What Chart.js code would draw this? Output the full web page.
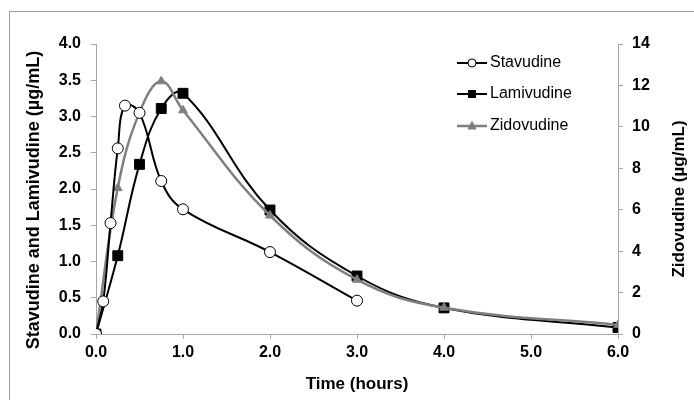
<!DOCTYPE html>
<html>
<head>
<meta charset="utf-8">
<script src="https://cdn.jsdelivr.net/npm/chart.js@4/dist/chart.umd.min.js"></script>
<style>
  html, body { margin: 0; padding: 0; background: #fff; overflow: hidden; }
  #wrap { position: relative; width: 694px; height: 400px; }
  #frame { position: absolute; left: 9px; top: 11px; width: 800px; height: 500px; border: 1px solid #a0a0a0; box-sizing: border-box; }
  canvas { position: absolute; left: 0; top: 0; }
</style>
</head>
<body>
<div id="wrap">
  <div id="frame"></div>
  <canvas id="c" width="694" height="400"></canvas>
</div>
<script>
// ---- data ----
const seriesNames = ['Stavudine', 'Lamivudine', 'Zidovudine'];
const timeStav = [0, 0.083, 0.167, 0.25, 0.333, 0.5, 0.75, 1, 2, 3];
const stavudine = [0, 0.45, 1.53, 2.56, 3.15, 3.05, 2.11, 1.72, 1.13, 0.46];
const timeLam = [0, 0.25, 0.5, 0.75, 1, 2, 3, 4, 6];
const lamivudine = [0, 1.08, 2.34, 3.11, 3.32, 1.71, 0.80, 0.36, 0.09];
const timeZid = [0, 0.25, 0.5, 0.75, 1, 2, 3, 4, 6];
const zidovudine = [0, 7.05, 10.7, 12.2, 10.8, 5.72, 2.62, 1.27, 0.44];
const xTitle = 'Time (hours)';
const yTitle = 'Stavudine and Lamivudine (µg/mL)';
const y2Title = 'Zidovudine (µg/mL)';

const FONT = "'Liberation Sans', Arial, sans-serif";
const AXIS = '#a6a6a6';
const GRAY = '#7f7f7f';

function pts(xs, ys) { return xs.map((x, i) => ({ x: x, y: ys[i] })); }

const legendItems = [
  { name: seriesNames[0], color: '#000', width: 2, marker: 'circle', fill: '#fff', y: 63 },
  { name: seriesNames[1], color: '#000', width: 2, marker: 'rect', fill: '#000', y: 94 },
  { name: seriesNames[2], color: GRAY, width: 2.5, marker: 'triangle', fill: GRAY, y: 126 }
];

const extras = {
  id: 'extras',
  afterDraw(chart) {
    const ctx = chart.ctx;
    ctx.save();
    // axis titles
    ctx.fillStyle = '#000';
    ctx.textAlign = 'center';
    ctx.textBaseline = 'middle';
    ctx.font = 'bold 17px ' + FONT;
    ctx.fillText(xTitle, 357, 384);
    ctx.save();
    ctx.translate(34, 200);
    ctx.rotate(-Math.PI / 2);
    ctx.font = 'bold 18px ' + FONT;
    ctx.fillText(yTitle, 0, 0);
    ctx.restore();
    ctx.save();
    ctx.translate(679, 199);
    ctx.rotate(-Math.PI / 2);
    ctx.font = 'bold 17px ' + FONT;
    ctx.fillText(y2Title, 0, 0);
    ctx.restore();
    // legend
    ctx.textAlign = 'left';
    ctx.font = '16px ' + FONT;
    legendItems.forEach(it => {
      ctx.strokeStyle = it.color;
      ctx.lineWidth = it.width;
      ctx.beginPath();
      ctx.moveTo(457, it.y);
      ctx.lineTo(487, it.y);
      ctx.stroke();
      ctx.fillStyle = it.fill;
      ctx.strokeStyle = it.color;
      ctx.lineWidth = 1;
      const cx = 472, cy = it.y;
      ctx.beginPath();
      if (it.marker === 'circle') {
        ctx.arc(cx, cy, 4, 0, Math.PI * 2);
      } else if (it.marker === 'rect') {
        ctx.rect(cx - 3.5, cy - 3.5, 7, 7);
      } else {
        ctx.moveTo(cx, cy - 4.5);
        ctx.lineTo(cx + 4, cy + 3);
        ctx.lineTo(cx - 4, cy + 3);
        ctx.closePath();
      }
      ctx.fill();
      ctx.stroke();
      ctx.fillStyle = '#000';
      ctx.fillText(it.name, 490, it.y);
    });
    ctx.restore();
  }
};

const tickFont = { family: FONT, size: 16, weight: 'bold' };

new Chart(document.getElementById('c'), {
  type: 'line',
  data: {
    datasets: [
      {
        label: seriesNames[0], data: pts(timeStav, stavudine), yAxisID: 'y', order: 1,
        borderColor: '#000', borderWidth: 2, tension: 0.4,
        pointStyle: 'circle', pointRadius: 5.5, pointBackgroundColor: '#fff',
        pointBorderColor: '#000', pointBorderWidth: 1
      },
      {
        label: seriesNames[2], data: pts(timeZid, zidovudine), yAxisID: 'y2', order: 2,
        borderColor: GRAY, borderWidth: 2.5, tension: 0.4,
        pointStyle: 'triangle', pointRadius: 5, pointBackgroundColor: GRAY,
        pointBorderColor: GRAY, pointBorderWidth: 1
      },
      {
        label: seriesNames[1], data: pts(timeLam, lamivudine), yAxisID: 'y', order: 3,
        borderColor: '#000', borderWidth: 2, tension: 0.4,
        pointStyle: 'rect', pointRadius: 7, pointBackgroundColor: '#000',
        pointBorderColor: '#000', pointBorderWidth: 1
      }
    ]
  },
  options: {
    responsive: false,
    animation: false,
    events: [],
    layout: { padding: { top: 44, left: 0, right: 0, bottom: 0 } },
    plugins: { legend: { display: false }, tooltip: { enabled: false } },
    scales: {
      x: {
        type: 'linear', position: 'bottom', min: 0, max: 6,
        ticks: { stepSize: 1, color: '#000', font: tickFont, padding: 4, maxRotation: 0,
                 callback: v => Number(v).toFixed(1) },
        grid: { drawOnChartArea: false, tickLength: 5, color: AXIS },
        border: { color: AXIS, width: 1 },
        afterFit: s => { s.height = 66; }
      },
      y: {
        type: 'linear', position: 'left', min: 0, max: 4,
        ticks: { stepSize: 0.5, color: '#000', font: tickFont, padding: 10,
                 callback: v => Number(v).toFixed(1) },
        grid: { drawOnChartArea: false, tickLength: 5, color: AXIS },
        border: { color: AXIS, width: 1 },
        afterFit: s => { s.width = 96; }
      },
      y2: {
        type: 'linear', position: 'right', min: 0, max: 14,
        ticks: { stepSize: 2, color: '#000', font: tickFont, padding: 9 },
        grid: { drawOnChartArea: false, tickLength: 5, color: AXIS },
        border: { color: AXIS, width: 1 },
        afterFit: s => { s.width = 76; }
      }
    }
  },
  plugins: [extras]
});
</script>
</body>
</html>
